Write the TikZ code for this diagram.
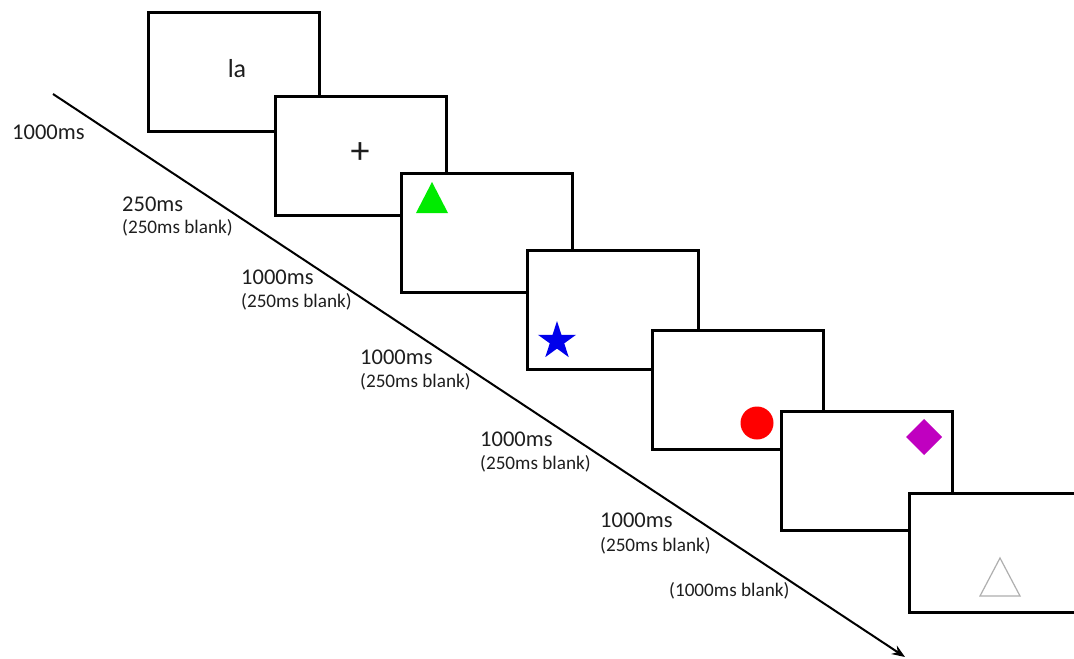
\documentclass[tikz,border=0pt]{standalone}
\usepackage{fontspec}
\setmainfont{Carlito}
\usetikzlibrary{arrows.meta}
\definecolor{txt}{RGB}{30,30,30}
\definecolor{tgreen}{RGB}{0,235,0}
\definecolor{sblue}{RGB}{0,0,235}
\definecolor{cred}{RGB}{255,0,0}
\definecolor{dmag}{RGB}{192,0,192}
\definecolor{ogray}{RGB}{175,175,175}
\begin{document}
\begin{tikzpicture}[x=1bp,y=-1bp,
  screen/.style={draw=black,line width=3bp,fill=white,minimum width=171bp,minimum height=119bp,inner sep=0pt,anchor=north west},
  dur/.style={anchor=west,inner sep=0pt,text=txt,font=\fontsize{22.5bp}{26bp}\selectfont},
  gap/.style={anchor=west,inner sep=0pt,text=txt,font=\fontsize{19.2bp}{22bp}\selectfont},
  stim/.style={inner sep=0pt,text=txt,font=\fontsize{26bp}{30bp}\selectfont}]
\useasboundingbox (0,0) rectangle (1074,659);
\begin{scope}
\clip (0,0) rectangle (1074,659);
% successive screens of the trial
\node[screen] (s1) at (147,11) {};
\node[screen] (s2) at (274,95) {};
\node[screen] (s3) at (400,172) {};
\node[screen] (s4) at (526,249) {};
\node[screen] (s5) at (651,329) {};
\node[screen] (s6) at (780,410) {};
\node[screen] (s7) at (908,492) {};
\end{scope}
% screen contents
\node[stim] (word) at (237,69) {la};
\node[stim,font=\fontsize{38bp}{40bp}\selectfont] (fix) at (360,153) {+};
\fill[tgreen] (432,182) -- (448,213) -- (416,213) -- cycle;
\fill[sblue] (557,341) +(-90:20) -- +(-54:7.6) -- +(-18:20) -- +(18:7.6) -- +(54:20)
  -- +(90:7.6) -- +(126:20) -- +(162:7.6) -- +(198:20) -- +(234:7.6) -- cycle;
\fill[cred] (757,423) circle[radius=16.5bp];
\fill[dmag] (924,419) -- (942,437) -- (924,455) -- (906,437) -- cycle;
\draw[ogray,line width=1.2bp,line join=miter] (1000,558) -- (1020,596) -- (980,596) -- cycle;
% time axis
\coordinate (t0) at (53,94);
\coordinate (t1) at (905,657);
\draw[line width=2bp,-{Stealth[length=13bp,width=10bp]}] (t0) -- (t1);
% durations
\node[dur] (d1) at (12,132) {1000ms};
\node[dur] (d2) at (122,204) {250ms};
\node[gap] (g2) at (122,228) {(250ms blank)};
\node[dur] (d3) at (241,277) {1000ms};
\node[gap] (g3) at (241,302) {(250ms blank)};
\node[dur] (d4) at (360,357) {1000ms};
\node[gap] (g4) at (360,382) {(250ms blank)};
\node[dur] (d5) at (480,439) {1000ms};
\node[gap] (g5) at (480,464) {(250ms blank)};
\node[dur] (d6) at (600,520) {1000ms};
\node[gap] (g6) at (600,546) {(250ms blank)};
\node[gap] (g7) at (669,591) {(1000ms blank)};
\end{tikzpicture}
\end{document}
